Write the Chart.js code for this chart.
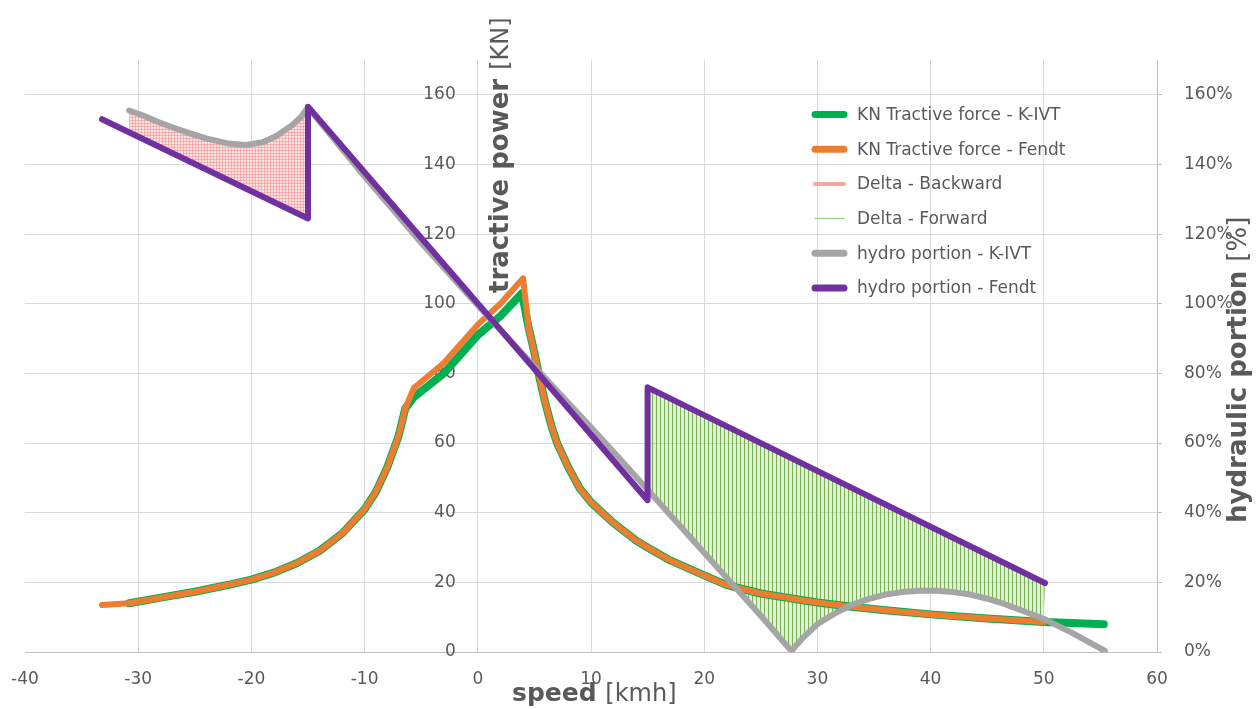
<!DOCTYPE html>
<html>
<head>
<meta charset="utf-8">
<script src="https://cdn.jsdelivr.net/npm/chart.js@4.4.1/dist/chart.umd.min.js"></script>
<style>
html,body{margin:0;padding:0;background:#ffffff;}
#wrap{width:1257px;height:709px;position:relative;overflow:hidden;}
</style>
</head>
<body>
<div id="wrap"><canvas id="c" width="1257" height="709"></canvas></div>
<script>
// ---------- tick labels ----------
const speedTicks = [-40, -30, -20, -10, 0, 10, 20, 30, 40, 50, 60];
const forceTicks = [0, 20, 40, 60, 80, 100, 120, 140, 160];
const hydroTicks = [0, 20, 40, 60, 80, 100, 120, 140, 160];

// ---------- series names ----------
const seriesNames = [
  'KN Tractive force - K-IVT',
  'KN Tractive force - Fendt',
  'Delta - Backward',
  'Delta - Forward',
  'hydro portion - K-IVT',
  'hydro portion - Fendt'
];

// ---------- KN Tractive force - K-IVT ----------
const speedForceKivt = [-30.8, -28, -25, -22, -20, -18, -16, -14, -12, -10, -9, -8, -7, -6.4, -5.65, -3, 0, 2, 3.9, 4.5, 5, 5.5, 6, 6.5, 7, 8, 9, 10, 11, 12, 13, 14, 15, 17, 20, 22, 25, 28, 30, 33, 36, 40, 45, 50, 52.5, 55.3];
const forceKivt      = [14.0, 15.6, 17.3, 19.3, 20.8, 22.8, 25.5, 29, 34, 41, 46, 53, 62, 70, 73.2, 80, 91, 96.5, 103, 93, 86, 78, 71, 65, 60, 53, 47, 43, 40, 37, 34.5, 32, 30, 26.3, 22, 19.2, 16.8, 15.2, 14.2, 13.0, 12.0, 10.8, 9.6, 8.6, 8.3, 8.0];

// ---------- KN Tractive force - Fendt ----------
const speedForceFendt = [-33.2, -30.8, -28, -25, -22, -20, -18, -16, -14, -12, -10, -9, -8, -7, -6.4, -5.65, -3, 0, 2, 4.0, 4.5, 5, 5.5, 6, 6.5, 7, 8, 9, 10, 11, 12, 13, 14, 15, 17, 20, 22, 25, 28, 30, 33, 36, 40, 45, 50];
const forceFendt      = [13.5, 14.0, 15.6, 17.3, 19.3, 20.8, 22.8, 25.5, 29, 34, 41, 46, 53, 62, 70, 75.8, 83, 94, 100, 107.3, 93, 86, 78, 71, 65, 60, 53, 47, 43, 40, 37, 34.5, 32, 30, 26.3, 22, 19.2, 16.8, 15.2, 14.2, 13.0, 12.0, 10.8, 9.6, 8.6];

// ---------- Delta - Backward (outline of shaded area, %) ----------
const speedDeltaBack = [-30.8, -29.5, -28.4, -27, -25.5, -24, -22, -20.5, -19, -17.8, -16.4, -15.6, -15, -15, -30.8];
const deltaBack      = [155.5, 154.0, 152.4, 150.7, 149, 147.5, 146.0, 145.6, 146.4, 148.2, 151.3, 153.7, 156.4, 124.5, 149.2];

// ---------- Delta - Forward (outline of shaded area, %) ----------
const speedDeltaFwd = [15, 50.1, 50, 48, 46.5, 45, 43.5, 42, 40.5, 39, 37.5, 36, 34.5, 33, 31.5, 30, 28.7, 27.7, 25, 20, 15];
const deltaFwd      = [76, 19.8, 10.5, 12, 13.8, 15.3, 16.5, 17.2, 17.6, 17.6, 17.2, 16.5, 15.2, 13.5, 11, 8, 4, 0.3, 10.4, 28.5, 46.6];

// ---------- hydro portion - K-IVT (%) ----------
const speedHydroKivt = [-30.8, -29.5, -28.4, -27, -25.5, -24, -22, -20.5, -19, -17.8, -16.4, -15.6, -15, -10, -5, 0, 5, 10, 12.4, 15, 20, 25, 27.7, 28.7, 30, 31.5, 33, 34.5, 36, 37.5, 39, 40.5, 42, 43.5, 45, 46.5, 48, 50, 52.5, 55.4];
const hydroKivt      = [155.5, 154.0, 152.4, 150.7, 149, 147.5, 146.0, 145.6, 146.4, 148.2, 151.3, 153.7, 156.4, 136.5, 117.5, 99.5, 82, 64.5, 56, 46.6, 28.5, 10.4, 0.3, 4, 8, 11, 13.5, 15.2, 16.5, 17.2, 17.6, 17.6, 17.2, 16.5, 15.3, 13.8, 12, 9.5, 5.5, 0.3];

// ---------- hydro portion - Fendt (%) ----------
const speedHydroFendt = [-33.2, -15, -15, 15, 15, 50.1];
const hydroFendt      = [153, 124.5, 156.6, 43.6, 76, 19.8];

// ---------- helpers ----------
const FONT = 'DejaVu Sans';
const TEXT = '#595959';
const toPoints = (xs, ys) => xs.map((x, i) => ({x: x, y: ys[i]}));

function makePattern(w, h, draw) {
  const c = document.createElement('canvas');
  c.width = w; c.height = h;
  const g = c.getContext('2d');
  draw(g, w, h);
  return g.createPattern(c, 'repeat');
}
const pinkPattern = makePattern(3, 3, (g, w, h) => {
  g.fillStyle = '#fde4e4'; g.fillRect(0, 0, w, h);
  g.fillStyle = 'rgba(244,150,150,0.65)';
  g.fillRect(0, 0, 1, h); g.fillRect(0, 0, w, 1);
});
const greenPattern = makePattern(4, 4, (g, w, h) => {
  g.clearRect(0, 0, w, h);
  g.fillStyle = 'rgba(112,173,71,0.95)';
  g.fillRect(0, 0, 1, h);
  g.fillStyle = 'rgba(169,209,142,0.35)';
  g.fillRect(1, 0, 3, h);
});

// ---------- custom legend & axis titles ----------
const legendSwatches = [
  {color: '#00b050', width: 7},
  {color: '#ed7d31', width: 7},
  {color: '#f4a7a7', width: 4, dash: [2, 1]},
  {color: '#a9d18e', width: 1.5},
  {color: '#a5a5a5', width: 7},
  {color: '#7030a0', width: 7}
];

const decorPlugin = {
  id: 'decor',
  afterDraw(chart) {
    const ctx = chart.ctx;
    // legend
    ctx.save();
    const names = chart.data.datasets.map(d => d.label);
    names.forEach((name, i) => {
      const y = 114.5 + i * 34.7;
      const s = legendSwatches[i];
      ctx.beginPath();
      ctx.lineCap = 'round';
      ctx.strokeStyle = s.color;
      ctx.lineWidth = s.width;
      ctx.setLineDash(s.dash || []);
      ctx.moveTo(815, y); ctx.lineTo(844, y);
      ctx.stroke();
      ctx.setLineDash([]);
      ctx.fillStyle = TEXT;
      ctx.font = '17px "' + FONT + '"';
      ctx.textBaseline = 'middle';
      ctx.textAlign = 'left';
      ctx.fillText(name, 857, y + 1);
    });
    ctx.restore();

    // x axis title
    ctx.save();
    ctx.fillStyle = TEXT;
    ctx.textBaseline = 'alphabetic';
    ctx.textAlign = 'left';
    ctx.font = 'bold 25px "' + FONT + '"';
    ctx.fillText('speed', 512, 701);
    let w = ctx.measureText('speed ').width;
    ctx.font = '24px "' + FONT + '"';
    ctx.fillText('[kmh]', 512 + w, 701);
    ctx.restore();

    // left y title (rotated)
    ctx.save();
    ctx.translate(508, 293);
    ctx.rotate(-Math.PI / 2);
    ctx.fillStyle = TEXT;
    ctx.textBaseline = 'alphabetic';
    ctx.textAlign = 'left';
    ctx.font = 'bold 26px "' + FONT + '"';
    ctx.fillText('tractive power', 0, 0);
    w = ctx.measureText('tractive power ').width;
    ctx.font = '24px "' + FONT + '"';
    ctx.fillText('[KN]', w, 0);
    ctx.restore();

    // right y title (rotated)
    ctx.save();
    ctx.translate(1246, 523);
    ctx.rotate(-Math.PI / 2);
    ctx.fillStyle = TEXT;
    ctx.textBaseline = 'alphabetic';
    ctx.textAlign = 'left';
    ctx.font = 'bold 26px "' + FONT + '"';
    ctx.fillText('hydraulic portion', 0, 0);
    w = ctx.measureText('hydraulic portion ').width;
    ctx.font = '26px "' + FONT + '"';
    ctx.fillText('[%]', w, 0);
    ctx.restore();
  }
};

const tickFont = {family: FONT, size: 17};

const chart = new Chart(document.getElementById('c'), {
  type: 'line',
  data: {
    datasets: [
      {
        label: seriesNames[0], data: toPoints(speedForceKivt, forceKivt), yAxisID: 'y',
        borderColor: '#00b050', borderWidth: 8, fill: false, order: 4
      },
      {
        label: seriesNames[1], data: toPoints(speedForceFendt, forceFendt), yAxisID: 'y',
        borderColor: '#ed7d31', borderWidth: 6, fill: false, order: 3
      },
      {
        label: seriesNames[2], data: toPoints(speedDeltaBack, deltaBack), yAxisID: 'y2',
        borderColor: 'rgba(0,0,0,0)', borderWidth: 1, backgroundColor: pinkPattern, fill: 'shape', order: 6
      },
      {
        label: seriesNames[3], data: toPoints(speedDeltaFwd, deltaFwd), yAxisID: 'y2',
        borderColor: 'rgba(0,0,0,0)', borderWidth: 1, backgroundColor: greenPattern, fill: 'shape', order: 5
      },
      {
        label: seriesNames[4], data: toPoints(speedHydroKivt, hydroKivt), yAxisID: 'y2',
        borderColor: '#a5a5a5', borderWidth: 6, fill: false, order: 2
      },
      {
        label: seriesNames[5], data: toPoints(speedHydroFendt, hydroFendt), yAxisID: 'y2',
        borderColor: '#7030a0', borderWidth: 6, fill: false, order: 1
      }
    ]
  },
  options: {
    responsive: false,
    animation: false,
    events: [],
    layout: {padding: {left: 25, top: 60, right: 0, bottom: 0}},
    plugins: {legend: {display: false}, tooltip: {enabled: false}, title: {display: false}},
    elements: {
      point: {radius: 0},
      line: {tension: 0, borderCapStyle: 'round', borderJoinStyle: 'round'}
    },
    scales: {
      x: {
        type: 'linear', position: 'bottom', min: -40, max: 60,
        afterBuildTicks: s => { s.ticks = speedTicks.map(v => ({value: v})); },
        afterFit: s => { s.height = 57; s.paddingLeft = 0; s.paddingRight = 0; },
        grid: {
          color: c => (c.tick && c.tick.value === -40) ? 'rgba(0,0,0,0)' : '#d9d9d9',
          drawTicks: false, lineWidth: 1
        },
        border: {display: true, color: '#bfbfbf'},
        ticks: {color: TEXT, font: tickFont, padding: 17, maxRotation: 0, autoSkip: false}
      },
      y: {
        // labels sit just left of the x = 0 line (axis line itself is the x = 0 grid line)
        type: 'linear', position: {x: -1.95}, min: 0, max: 170,
        afterBuildTicks: s => { s.ticks = forceTicks.map(v => ({value: v})); },
        afterFit: s => { s.width = 0; s.paddingLeft = 0; s.paddingRight = 0; s.paddingTop = 0; s.paddingBottom = 0; },
        grid: {color: '#d9d9d9', drawTicks: false, lineWidth: 1},
        border: {display: false},
        ticks: {color: TEXT, font: tickFont, padding: 0}
      },
      y2: {
        type: 'linear', position: 'right', min: 0, max: 170,
        afterBuildTicks: s => { s.ticks = hydroTicks.map(v => ({value: v})); },
        afterFit: s => { s.width = 100; s.paddingTop = 0; s.paddingBottom = 0; },
        grid: {drawOnChartArea: false, drawTicks: true, tickLength: 5, color: '#bfbfbf'},
        border: {display: true, color: '#bfbfbf'},
        ticks: {color: TEXT, font: tickFont, padding: 22, callback: v => v + '%'}
      }
    }
  },
  plugins: [decorPlugin]
});
</script>
</body>
</html>
